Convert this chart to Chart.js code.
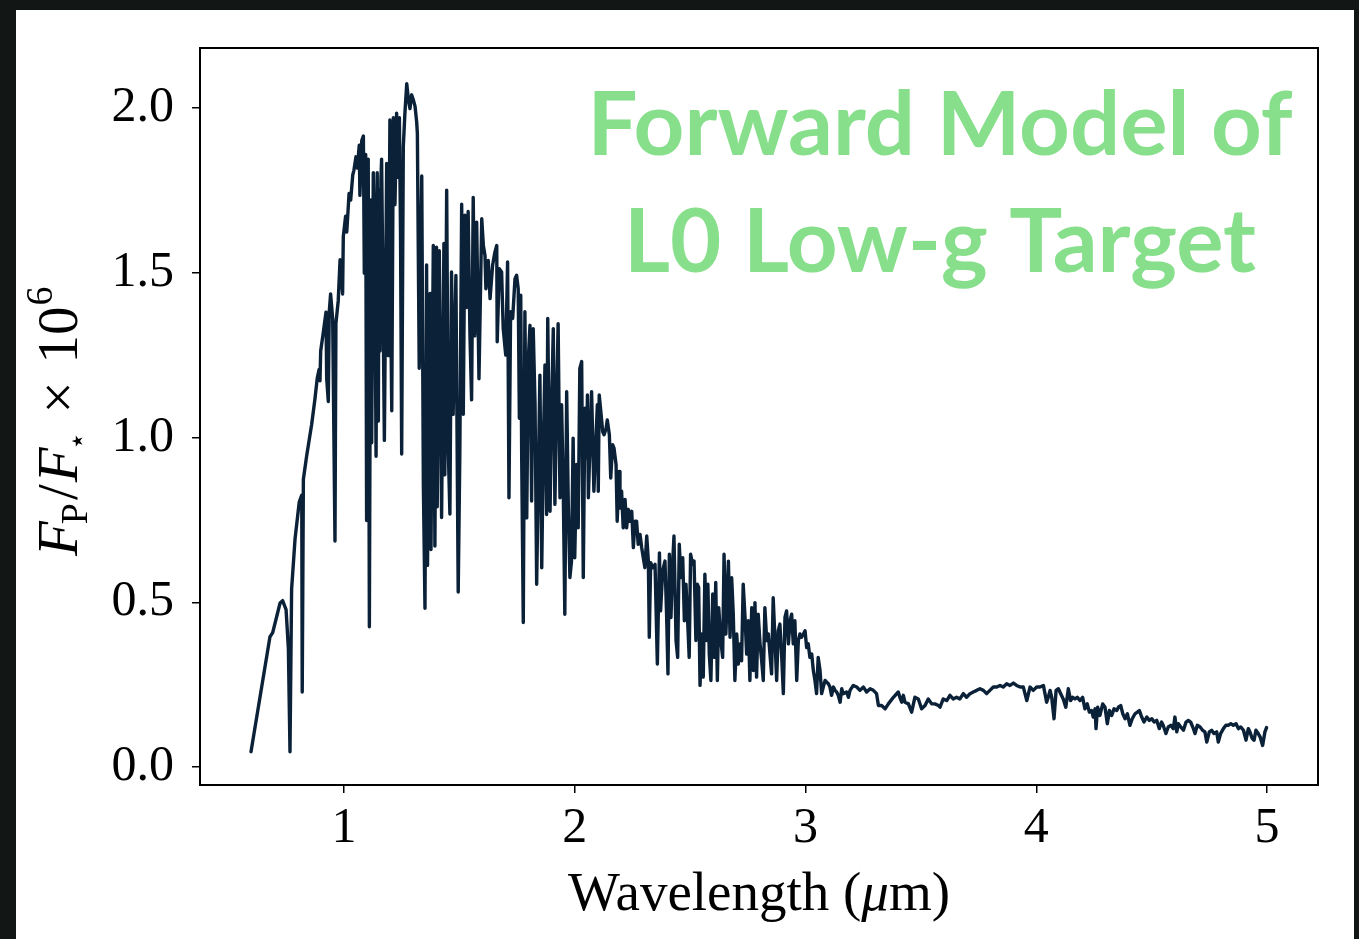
<!DOCTYPE html>
<html>
<head>
<meta charset="utf-8">
<script src="https://cdn.jsdelivr.net/npm/chart.js@4.4.0/dist/chart.umd.min.js"></script>
<style>
  html, body { margin: 0; padding: 0; background: #121716; overflow: hidden; }
  #card { position: absolute; left: 16px; top: 10px; width: 1338px; height: 929px; background: #fff; }
  #chart { position: absolute; left: 0; top: 0; }
</style>
</head>
<body>
<div id="card"></div>
<canvas id="chart" width="1359" height="939"></canvas>
<script>
// spectrum (wavelength in micron, Fp/F* x 1e6)
const wavelength = [
  0.597, 0.679, 0.691, 0.723, 0.734, 0.749, 0.759, 0.766, 0.773, 0.788,
  0.806, 0.817, 0.819, 0.824, 0.838, 0.860, 0.874, 0.884, 0.892, 0.896,
  0.899, 0.910, 0.922, 0.925, 0.932, 0.936, 0.942, 0.951, 0.961, 0.965,
  0.975, 0.983, 0.994, 0.997, 1.007, 1.012, 1.022, 1.029, 1.038, 1.043,
  1.052, 1.058, 1.066, 1.069, 1.077, 1.084, 1.088, 1.094, 1.098, 1.105,
  1.110, 1.116, 1.120, 1.127, 1.133, 1.139, 1.144, 1.149, 1.152, 1.156,
  1.160, 1.163, 1.168, 1.175, 1.178, 1.185, 1.188, 1.192, 1.199, 1.203,
  1.207, 1.214, 1.221, 1.228, 1.235, 1.240, 1.245, 1.250, 1.257, 1.264,
  1.272, 1.279, 1.286, 1.293, 1.300, 1.308, 1.315, 1.318, 1.326, 1.337,
  1.344, 1.351, 1.358, 1.362, 1.373, 1.377, 1.387, 1.394, 1.401, 1.404,
  1.413, 1.423, 1.433, 1.437, 1.445, 1.452, 1.459, 1.466, 1.473, 1.485,
  1.495, 1.502, 1.510, 1.517, 1.524, 1.531, 1.538, 1.546, 1.553, 1.560,
  1.567, 1.575, 1.585, 1.597, 1.604, 1.611, 1.615, 1.625, 1.633, 1.644,
  1.654, 1.662, 1.664, 1.673, 1.683, 1.690, 1.701, 1.709, 1.715, 1.722,
  1.731, 1.741, 1.748, 1.755, 1.760, 1.766, 1.770, 1.777, 1.784, 1.792,
  1.799, 1.806, 1.813, 1.820, 1.828, 1.835, 1.842, 1.849, 1.857, 1.864,
  1.871, 1.878, 1.883, 1.893, 1.900, 1.907, 1.914, 1.921, 1.928, 1.936,
  1.943, 1.950, 1.957, 1.965, 1.972, 1.979, 1.986, 1.993, 2.000, 2.008,
  2.015, 2.022, 2.030, 2.037, 2.044, 2.052, 2.055, 2.059, 2.066, 2.073,
  2.083, 2.092, 2.098, 2.102, 2.106, 2.113, 2.121, 2.127, 2.136, 2.141,
  2.150, 2.156, 2.164, 2.170, 2.179, 2.184, 2.192, 2.196, 2.203, 2.210,
  2.218, 2.225, 2.232, 2.239, 2.247, 2.254, 2.261, 2.268, 2.275, 2.283,
  2.290, 2.297, 2.304, 2.312, 2.319, 2.323, 2.329, 2.338, 2.348, 2.358,
  2.367, 2.372, 2.381, 2.391, 2.398, 2.404, 2.410, 2.417, 2.424, 2.430,
  2.439, 2.446, 2.453, 2.460, 2.468, 2.475, 2.482, 2.488, 2.496, 2.502,
  2.511, 2.517, 2.525, 2.531, 2.537, 2.543, 2.550, 2.557, 2.564, 2.572,
  2.577, 2.583, 2.590, 2.598, 2.605, 2.611, 2.618, 2.624, 2.633, 2.641,
  2.647, 2.655, 2.666, 2.673, 2.680, 2.687, 2.694, 2.702, 2.709, 2.716,
  2.723, 2.730, 2.738, 2.745, 2.752, 2.759, 2.767, 2.774, 2.781, 2.788,
  2.795, 2.803, 2.810, 2.817, 2.824, 2.832, 2.839, 2.846, 2.853, 2.860,
  2.868, 2.875, 2.882, 2.889, 2.897, 2.904, 2.911, 2.918, 2.926, 2.933,
  2.940, 2.947, 2.954, 2.962, 2.969, 2.976, 2.983, 2.991, 2.998, 3.005,
  3.012, 3.019, 3.027, 3.034, 3.041, 3.048, 3.055, 3.063, 3.070, 3.077,
  3.085, 3.092, 3.099, 3.106, 3.113, 3.121, 3.128, 3.135, 3.142, 3.150,
  3.157, 3.164, 3.178, 3.186, 3.193, 3.207, 3.222, 3.236, 3.251, 3.265,
  3.280, 3.294, 3.308, 3.316, 3.330, 3.345, 3.359, 3.381, 3.402, 3.409,
  3.417, 3.424, 3.431, 3.446, 3.460, 3.474, 3.489, 3.503, 3.518, 3.532,
  3.547, 3.561, 3.576, 3.583, 3.597, 3.612, 3.626, 3.640, 3.655, 3.669,
  3.684, 3.698, 3.713, 3.727, 3.742, 3.756, 3.771, 3.785, 3.799, 3.814,
  3.829, 3.843, 3.857, 3.872, 3.886, 3.901, 3.915, 3.930, 3.944, 3.959,
  3.973, 3.987, 4.002, 4.016, 4.031, 4.045, 4.052, 4.060, 4.067, 4.077,
  4.086, 4.096, 4.106, 4.117, 4.128, 4.139, 4.149, 4.158, 4.168, 4.178,
  4.189, 4.201, 4.211, 4.221, 4.230, 4.240, 4.247, 4.255, 4.259, 4.266,
  4.276, 4.288, 4.298, 4.308, 4.317, 4.327, 4.337, 4.349, 4.356, 4.366,
  4.375, 4.385, 4.395, 4.406, 4.416, 4.428, 4.438, 4.447, 4.457, 4.467,
  4.479, 4.490, 4.501, 4.511, 4.522, 4.533, 4.543, 4.550, 4.562, 4.572,
  4.583, 4.594, 4.601, 4.609, 4.616, 4.626, 4.638, 4.649, 4.659, 4.669,
  4.681, 4.688, 4.698, 4.710, 4.721, 4.731, 4.739, 4.750, 4.760, 4.770,
  4.782, 4.789, 4.799, 4.811, 4.822, 4.832, 4.843, 4.854, 4.866, 4.876,
  4.886, 4.898, 4.909, 4.919, 4.926, 4.936, 4.944, 4.952, 4.962, 4.970,
  4.981, 4.991, 4.998
];
const flux = [
  0.047, 0.395, 0.408, 0.498, 0.505, 0.478, 0.360, 0.047, 0.540, 0.693,
  0.804, 0.825, 0.228, 0.873, 0.943, 1.040, 1.116, 1.179, 1.206, 1.172,
  1.262, 1.317, 1.380, 1.179, 1.109, 1.380, 1.435, 1.359, 0.686, 1.345,
  1.414, 1.539, 1.435, 1.609, 1.671, 1.623, 1.740, 1.720, 1.796, 1.810,
  1.851, 1.817, 1.886, 1.734, 1.900, 1.914, 1.498, 1.858, 0.748, 1.844,
  0.426, 1.720, 0.984, 1.803, 1.600, 0.943, 1.803, 1.050, 1.750, 1.262,
  1.780, 1.844, 1.511, 0.991, 1.243, 1.831, 1.400, 1.248, 1.963, 1.350,
  1.081, 1.970, 1.706, 1.983, 1.789, 1.970, 1.620, 0.950, 1.880, 1.983,
  2.073, 2.025, 1.997, 2.039, 2.025, 2.004, 1.956, 1.922, 1.210, 1.793,
  0.854, 0.482, 1.523, 0.612, 1.437, 0.660, 1.582, 0.671, 1.577, 0.790,
  1.566, 0.757, 1.588, 0.887, 1.750, 0.963, 0.768, 1.502, 1.070, 1.491,
  0.531, 0.952, 1.707, 1.070, 1.674, 1.394, 1.685, 1.308, 1.114, 1.728,
  1.308, 1.653, 1.178, 1.663, 1.582, 1.552, 1.451, 1.537, 1.421, 1.522,
  1.562, 1.582, 1.290, 1.512, 1.502, 1.330, 1.250, 1.532, 0.817, 1.381,
  1.361, 1.481, 1.492, 1.451, 1.058, 1.431, 0.948, 0.439, 1.381, 0.756,
  1.240, 1.340, 0.807, 1.330, 1.099, 0.555, 0.877, 1.189, 0.605, 0.978,
  1.220, 0.766, 1.361, 0.776, 1.099, 1.330, 0.797, 1.099, 1.345, 0.817,
  1.099, 0.857, 0.464, 1.139, 0.797, 0.575, 0.625, 0.998, 0.635, 0.918,
  0.726, 1.209, 1.230, 0.575, 1.089, 0.938, 1.129, 0.817, 0.978, 1.139,
  0.837, 0.998, 1.099, 0.837, 1.129, 1.079, 1.018, 1.008, 1.028, 1.053,
  1.008, 0.877, 0.978, 0.968, 0.918, 0.746, 0.897, 0.786, 0.837, 0.726,
  0.812, 0.726, 0.782, 0.746, 0.776, 0.666, 0.746, 0.746, 0.676, 0.706,
  0.666, 0.635, 0.605, 0.701, 0.625, 0.394, 0.620, 0.605, 0.615, 0.313,
  0.650, 0.474, 0.595, 0.625, 0.464, 0.283, 0.646, 0.454, 0.615, 0.701,
  0.384, 0.333, 0.676, 0.575, 0.635, 0.444, 0.555, 0.464, 0.333, 0.646,
  0.615, 0.625, 0.384, 0.555, 0.545, 0.248, 0.404, 0.273, 0.585, 0.384,
  0.555, 0.343, 0.263, 0.525, 0.333, 0.560, 0.263, 0.484, 0.384, 0.333,
  0.646, 0.404, 0.625, 0.394, 0.575, 0.464, 0.263, 0.404, 0.313, 0.374,
  0.323, 0.555, 0.454, 0.343, 0.444, 0.263, 0.484, 0.293, 0.499, 0.273,
  0.464, 0.374, 0.323, 0.263, 0.484, 0.384, 0.404, 0.343, 0.283, 0.514,
  0.384, 0.263, 0.414, 0.434, 0.333, 0.223, 0.454, 0.474, 0.374, 0.444,
  0.464, 0.374, 0.444, 0.263, 0.384, 0.404, 0.394, 0.404, 0.414, 0.363,
  0.374, 0.333, 0.343, 0.293, 0.263, 0.223, 0.333, 0.293, 0.223, 0.243,
  0.263, 0.258, 0.253, 0.243, 0.218, 0.243, 0.233, 0.228, 0.218, 0.197,
  0.238, 0.223, 0.228, 0.212, 0.233, 0.248, 0.243, 0.233, 0.243, 0.228,
  0.238, 0.233, 0.223, 0.187, 0.187, 0.177, 0.192, 0.212, 0.228, 0.212,
  0.197, 0.218, 0.197, 0.192, 0.167, 0.212, 0.207, 0.177, 0.187, 0.207,
  0.192, 0.192, 0.187, 0.182, 0.207, 0.202, 0.218, 0.207, 0.212, 0.207,
  0.223, 0.212, 0.223, 0.228, 0.233, 0.238, 0.233, 0.223, 0.233, 0.243,
  0.243, 0.248, 0.243, 0.253, 0.248, 0.255, 0.248, 0.243, 0.243, 0.202,
  0.243, 0.233, 0.243, 0.243, 0.248, 0.197, 0.212, 0.233, 0.212, 0.147,
  0.233, 0.238, 0.223, 0.207, 0.182, 0.238, 0.202, 0.212, 0.207, 0.212,
  0.202, 0.212, 0.177, 0.192, 0.167, 0.172, 0.152, 0.177, 0.117, 0.182,
  0.157, 0.192, 0.182, 0.132, 0.172, 0.157, 0.177, 0.172, 0.182, 0.187,
  0.162, 0.147, 0.162, 0.127, 0.147, 0.162, 0.167, 0.172, 0.152, 0.137,
  0.152, 0.142, 0.147, 0.137, 0.142, 0.117, 0.137, 0.127, 0.102, 0.122,
  0.127, 0.117, 0.152, 0.107, 0.132, 0.122, 0.112, 0.137, 0.142, 0.137,
  0.117, 0.102, 0.127, 0.122, 0.112, 0.107, 0.076, 0.107, 0.112, 0.102,
  0.107, 0.076, 0.102, 0.117, 0.127, 0.127, 0.132, 0.127, 0.132, 0.117,
  0.122, 0.112, 0.082, 0.117, 0.107, 0.087, 0.082, 0.112, 0.102, 0.092,
  0.066, 0.107, 0.120
];
const xTicks = [1, 2, 3, 4, 5];
const yTicks = [0, 0.5, 1.0, 1.5, 2.0];
const titleLines = ['Forward Model of', 'L0 Low-g Target'];

const lineColor = '#0a2138';
const green = '#87df8c';
const serif = '"Liberation Serif", "Times New Roman", serif';

const points = wavelength.map((w, i) => ({ x: w, y: flux[i] }));

function drawYLabel(ctx) {
  const parts = [
    { t: 'F', f: 'italic 57px ' + serif, dy: 0, pre: 0 },
    { t: 'P', f: '38px ' + serif, dy: 10, pre: -3 },
    { t: '/', f: '57px ' + serif, dy: 0, pre: 3 },
    { t: 'F', f: 'italic 57px ' + serif, dy: 0, pre: 2 },
    { t: '\u22c6', f: '30px "DejaVu Sans"', dy: 10, pre: -3 },
    { t: '\u00d7', f: '57px ' + serif, dy: 0, pre: 18 },
    { t: '10', f: '57px ' + serif, dy: 0, pre: 18 },
    { t: '6', f: '38px ' + serif, dy: -25, pre: 1 }
  ];
  ctx.save();
  ctx.translate(77, 556);
  ctx.rotate(-Math.PI / 2);
  ctx.fillStyle = '#000';
  ctx.textBaseline = 'alphabetic';
  ctx.textAlign = 'left';
  let x = 0;
  parts.forEach(p => {
    ctx.font = p.f;
    x += p.pre;
    ctx.fillText(p.t, x, p.dy);
    x += ctx.measureText(p.t).width;
  });
  ctx.restore();
}

function drawXLabel(ctx, cx) {
  const parts = [
    { t: 'Wavelength (', f: '55px ' + serif },
    { t: '\u03bc', f: 'italic 55px ' + serif },
    { t: 'm)', f: '55px ' + serif }
  ];
  ctx.save();
  ctx.fillStyle = '#000';
  ctx.textBaseline = 'alphabetic';
  ctx.textAlign = 'left';
  let total = 0;
  parts.forEach(p => { ctx.font = p.f; total += ctx.measureText(p.t).width; });
  let x = cx - total / 2;
  parts.forEach(p => {
    ctx.font = p.f;
    ctx.fillText(p.t, x, 910);
    x += ctx.measureText(p.t).width;
  });
  ctx.restore();
}

const decorPlugin = {
  id: 'decor',
  afterDraw(chart) {
    const ctx = chart.ctx;
    const a = chart.chartArea;
    ctx.save();
    ctx.strokeStyle = '#000';
    ctx.lineWidth = 2;
    ctx.strokeRect(a.left, a.top, a.right - a.left, a.bottom - a.top);

    // big green annotation
    ctx.fillStyle = green;
    ctx.textAlign = 'center';
    ctx.textBaseline = 'alphabetic';
    let size = 86;
    ctx.font = '700 ' + size + 'px Lato, "Open Sans", sans-serif';
    const w = ctx.measureText(titleLines[0]).width;
    size = size * 705 / w;
    ctx.font = '700 ' + size.toFixed(1) + 'px Lato, "Open Sans", sans-serif';
    ctx.fillText(titleLines[0], 940, 155);
    ctx.fillText(titleLines[1], 940, 272);
    ctx.restore();

    drawYLabel(ctx);
    drawXLabel(ctx, (a.left + a.right) / 2);
  }
};

new Chart(document.getElementById('chart').getContext('2d'), {
  type: 'scatter',
  data: {
    datasets: [{
      data: points,
      showLine: true,
      borderColor: lineColor,
      borderWidth: 3.4,
      borderJoinStyle: 'round',
      borderCapStyle: 'round',
      pointRadius: 0,
      tension: 0
    }]
  },
  options: {
    responsive: false,
    animation: false,
    events: [],
    layout: { padding: { left: 0, top: 45, right: 41, bottom: 0 } },
    plugins: { legend: { display: false }, tooltip: { enabled: false } },
    scales: {
      x: {
        type: 'linear',
        min: 0.376,
        max: 5.221,
        afterBuildTicks: s => { s.ticks = xTicks.map(v => ({ value: v })); },
        afterFit: s => { s.height = 154; },
        grid: { drawOnChartArea: false, drawTicks: true, tickLength: 8, color: '#000', lineWidth: 1.5 },
        border: { display: false },
        ticks: {
          color: '#000',
          font: { family: serif, size: 50 },
          padding: 6,
          maxRotation: 0,
          callback: v => String(v)
        }
      },
      y: {
        type: 'linear',
        min: -0.054,
        max: 2.181,
        afterBuildTicks: s => { s.ticks = yTicks.map(v => ({ value: v })); },
        afterFit: s => { s.width = 200; },
        grid: { drawOnChartArea: false, drawTicks: true, tickLength: 8, color: '#000', lineWidth: 1.5 },
        border: { display: false },
        ticks: {
          color: '#000',
          font: { family: serif, size: 50 },
          padding: 18,
          callback: v => v.toFixed(1)
        }
      }
    }
  },
  plugins: [decorPlugin]
});
</script>
</body>
</html>
